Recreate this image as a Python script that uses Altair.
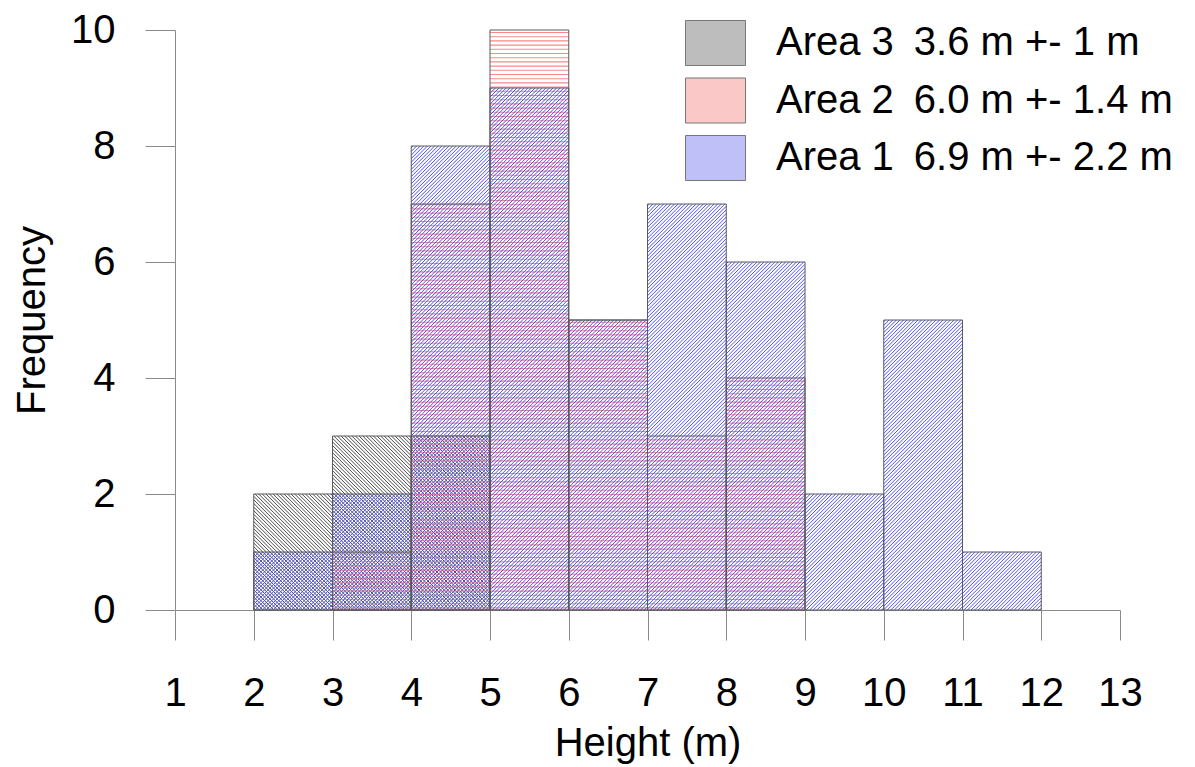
import altair as alt
import pandas as pd

# ---- data ----
bin_starts = [1, 2, 3, 4, 5, 6, 7, 8, 9, 10, 11, 12]
area1_counts = [0, 1, 2, 8, 9, 5, 7, 6, 2, 5, 1, 0]
area2_counts = [0, 0, 1, 7, 10, 5, 3, 4, 0, 0, 0, 0]
area3_counts = [0, 2, 3, 3, 0, 0, 0, 0, 0, 0, 0, 0]
area_names = ["Area 3", "Area 2", "Area 1"]
area_stats = ["3.6 m +- 1 m", "6.0 m +- 1.4 m", "6.9 m +- 2.2 m"]
x_ticks = list(range(1, 14))
y_ticks = [0, 2, 4, 6, 8, 10]

rows = []
for name, counts in zip(["Area 1", "Area 2", "Area 3"], [area1_counts, area2_counts, area3_counts]):
    for s, n in zip(bin_starts, counts):
        if n > 0:
            rows.append({"area": name, "x0": s, "x1": s + 1, "n": n})
df = pd.DataFrame(rows)

legend_labels = [f"{a}\u2002{s}" for a, s in zip(area_names, area_stats)]
legend_df = pd.DataFrame({"label": legend_labels, "x0": [1, 1, 1], "n": [0, 0, 0]})

# ---- layout / style ----
W, H = 945, 580
PXX = W / 12.0   # px per unit of height (m)
PXY = H / 10.0   # px per unit of frequency
FONT = "Liberation Sans"
GREY = "#8a8a8a"

xscale = alt.Scale(domain=[1, 13], nice=False, zero=False)
yscale = alt.Scale(domain=[0, 10], nice=False)
xaxis = alt.Axis(values=x_ticks, title="Height (m)", grid=False, tickSize=30,
                 tickColor=GREY, domainColor=GREY, labelFontSize=40, labelPadding=33,
                 labelColor="black", labelFlush=False, labelOverlap=False,
                 titleFontSize=40, titleFontWeight="normal",
                 titleColor="black", titleY=145, titleBaseline="alphabetic", format="d")
yaxis = alt.Axis(values=y_ticks, title="Frequency", grid=False, tickSize=30,
                 tickColor=GREY, domainColor=GREY, labelFontSize=40, labelPadding=30,
                 labelColor="black", labelFlush=False,
                 titleFontSize=40, titleFontWeight="normal",
                 titleColor="black", titleX=-131, titleY=290, titleAngle=-90,
                 titleAlign="center", titleBaseline="alphabetic", format="d")


def X(field):
    return alt.X(field, type="quantitative", scale=xscale, axis=xaxis)


def Y(field):
    return alt.Y(field, type="quantitative", scale=yscale, axis=yaxis)


def diagonal(area, color, spacing, forward, width):
    base = alt.Chart(df).transform_filter(f"datum.area == '{area}'").transform_calculate(
        Hp=f"datum.n * {PXY}"
    ).transform_calculate(
        c=f"sequence(-datum.Hp + {spacing / 2}, {PXX}, {spacing})"
    ).transform_flatten(["c"]).transform_calculate(
        u0="max(datum.c, 0)",
        v0="max(-datum.c, 0)",
        u1=f"min(datum.c + datum.Hp, {PXX})",
        v1=f"min(datum.Hp, {PXX} - datum.c)",
    )
    if forward:
        base = base.transform_calculate(
            X0=f"datum.x0 + datum.u0 / {PXX}", X1=f"datum.x0 + datum.u1 / {PXX}")
    else:
        base = base.transform_calculate(
            X0=f"datum.x1 - datum.u0 / {PXX}", X1=f"datum.x1 - datum.u1 / {PXX}")
    base = base.transform_calculate(Y0=f"datum.v0 / {PXY}", Y1=f"datum.v1 / {PXY}")
    return base.mark_rule(color=color, strokeWidth=width).encode(
        x=X("X0"), y=Y("Y0"), x2="X1:Q", y2="Y1:Q")


def horizontal(area, color, spacing, width):
    return alt.Chart(df).transform_filter(f"datum.area == '{area}'").transform_calculate(
        v=f"sequence({spacing / 2}, datum.n * {PXY}, {spacing})"
    ).transform_flatten(["v"]).transform_calculate(
        Yv=f"datum.v / {PXY}"
    ).mark_rule(color=color, strokeWidth=width).encode(
        x=X("x0"), x2="x1:Q", y=Y("Yv"))


hatch3 = diagonal("Area 3", "#4a4a4a", 3.6, forward=False, width=1.0)
hatch2 = horizontal("Area 2", "#f58a8a", 4.2, width=1.1)
hatch1 = diagonal("Area 1", "#5050f5", 3.6, forward=True, width=1.0)

outline = alt.Chart(df).mark_bar(fillOpacity=0, stroke="#5a5a5a", strokeWidth=1).encode(
    x=X("x0"), x2="x1:Q", y=Y("n"), y2=alt.datum(0))

legend_layer = alt.Chart(legend_df).mark_point(filled=True, size=0, strokeWidth=0).encode(
    x=X("x0"), y=Y("n"),
    fill=alt.Fill("label:N",
                  scale=alt.Scale(domain=legend_labels,
                                  range=["#bdbdbd", "#fbc8c8", "#c0c0f8"]),
                  legend=alt.Legend(orient="none", legendX=510, legendY=-17.5, title=None,
                                    symbolType="M-1,-0.75H1V0.75H-1Z", symbolSize=3600,
                                    symbolStrokeColor="#777777", symbolStrokeWidth=1,
                                    symbolOpacity=1, labelFontSize=40, labelFont=FONT,
                                    labelColor="black", labelOffset=30, labelLimit=0,
                                    rowPadding=2.5, padding=0)))

chart = alt.layer(hatch3, hatch2, hatch1, outline, legend_layer).properties(
    width=W, height=H,
    autosize=alt.AutoSizeParams(type="none"),
    padding={"left": 167, "top": 22, "right": 60, "bottom": 157},
).configure(font=FONT).configure_view(stroke=None)

chart.save("out.html", embed_options={"renderer": "svg", "actions": False})
